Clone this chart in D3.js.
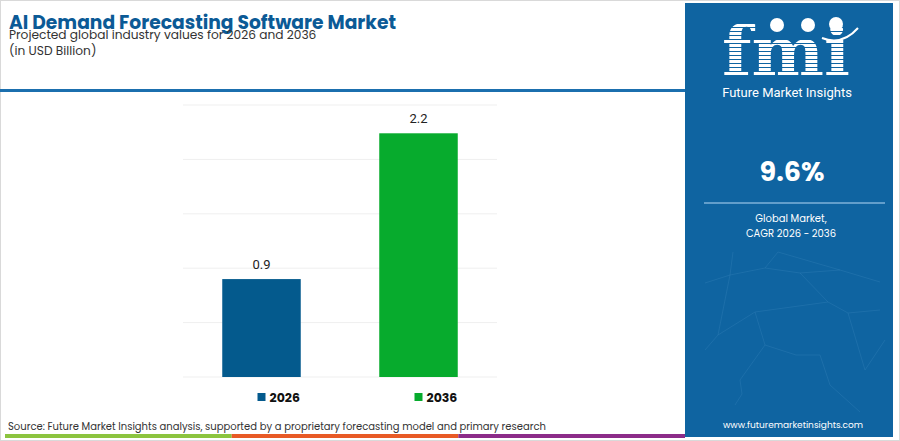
<!DOCTYPE html>
<html>
<head>
<meta charset="utf-8">
<script src="https://cdn.jsdelivr.net/npm/d3@7"></script>
<style>
  body { margin: 0; background: #fff; }
  svg { display: block; font-family: Poppins, "Open Sans", Lato, sans-serif; }
</style>
</head>
<body>
<script>
var years = ["2026", "2036"];
var values = [0.9, 2.24];
var labels = ["0.9", "2.2"];
var colors = ["#045a8d", "#07ab2d"];
var gridTicks = [0, 0.5, 1, 1.5, 2, 2.5];
var cagr = "9.6%";
var stripeColors = ["#8cc43f", "#e85a26", "#8c2c89"];

var width = 900, height = 441;

var svg = d3.select("body").append("svg")
  .attr("width", width)
  .attr("height", height);

// outer frame
svg.append("rect")
  .attr("x", 0.5).attr("y", 0.5)
  .attr("width", width - 1).attr("height", height - 1)
  .attr("fill", "#fff").attr("stroke", "#d9d9d9");

// header
svg.append("text")
  .attr("x", 9).attr("y", 29)
  .attr("font-size", 18.7).attr("font-weight", 700)
  .attr("fill", "#0b5a96")
  .text("AI Demand Forecasting Software Market");
svg.append("text")
  .attr("x", 9).attr("y", 39)
  .attr("font-size", 12.2).attr("fill", "#333")
  .text("Projected global industry values for 2026 and 2036");
svg.append("text")
  .attr("x", 9).attr("y", 55)
  .attr("font-size", 12.2).attr("fill", "#333")
  .text("(in USD Billion)");

svg.append("rect")
  .attr("x", 0).attr("y", 89)
  .attr("width", 686).attr("height", 3)
  .attr("fill", "#1b6fae");

// chart
var x = d3.scaleBand().domain(years).range([183, 497]).paddingInner(0.5).paddingOuter(0.25);
var y = d3.scaleLinear().domain([0, 2.5]).range([377, 105]);

svg.append("g").selectAll("line")
  .data(gridTicks)
  .join("line")
  .attr("x1", 183).attr("x2", 497)
  .attr("y1", function(d) { return y(d); })
  .attr("y2", function(d) { return y(d); })
  .attr("stroke", "#efefef").attr("stroke-width", 1);

svg.append("g").selectAll("rect")
  .data(years)
  .join("rect")
  .attr("x", function(d) { return x(d); })
  .attr("width", x.bandwidth())
  .attr("y", function(d, i) { return y(values[i]); })
  .attr("height", function(d, i) { return y(0) - y(values[i]); })
  .attr("fill", function(d, i) { return colors[i]; });

svg.append("g").selectAll("text")
  .data(years)
  .join("text")
  .attr("x", function(d) { return x(d) + x.bandwidth() / 2; })
  .attr("y", function(d, i) { return y(values[i]) - 10; })
  .attr("text-anchor", "middle")
  .attr("font-size", 13).attr("fill", "#222")
  .attr("font-family", "Roboto, sans-serif")
  .text(function(d, i) { return labels[i]; });

// legend
var leg = svg.append("g").selectAll("g")
  .data(years)
  .join("g")
  .attr("transform", function(d) { return "translate(" + (x(d) + x.bandwidth() / 2 - 4) + ",393)"; });
leg.append("rect")
  .attr("width", 8).attr("height", 8)
  .attr("fill", function(d, i) { return colors[i]; });
leg.append("text")
  .attr("x", 12).attr("y", 8.5)
  .attr("font-size", 12.5).attr("font-weight", 700).attr("fill", "#111")
  .text(function(d) { return d; });

// source + bottom stripe
svg.append("text")
  .attr("x", 8).attr("y", 430)
  .attr("font-size", 10).attr("fill", "#333")
  .text("Source: Future Market Insights analysis, supported by a proprietary forecasting model and primary research");

var sx = d3.scaleBand().domain(stripeColors).range([5, 685]);
svg.append("g").selectAll("rect")
  .data(stripeColors)
  .join("rect")
  .attr("x", function(d) { return sx(d); })
  .attr("y", 434)
  .attr("width", sx.bandwidth())
  .attr("height", 4)
  .attr("fill", function(d) { return d; });

// right panel
var px = 685, pw = 208;
svg.append("rect")
  .attr("x", px).attr("y", 3)
  .attr("width", pw).attr("height", 434)
  .attr("fill", "#0f64a1");

// faint network lines
var netPts = [[733,252],[730,275],[705,283],[765,268],[778,252],[800,273],[840,270],[880,282],[718,335],[755,312],[765,345],[740,380],[705,350],[828,302],[848,313],[880,310],[820,355],[796,355],[830,385],[860,412],[865,370],[885,340],[742,394],[735,405]];
var netLinks = [[0,1],[1,2],[1,3],[3,4],[3,5],[5,6],[6,7],[1,8],[8,9],[9,10],[10,11],[8,12],[5,13],[13,14],[14,15],[10,17],[17,16],[16,18],[18,19],[14,20],[20,21],[11,22],[22,23],[9,13],[4,6]];
svg.append("g").selectAll("line")
  .data(netLinks)
  .join("line")
  .attr("x1", function(d) { return netPts[d[0]][0]; })
  .attr("y1", function(d) { return netPts[d[0]][1]; })
  .attr("x2", function(d) { return netPts[d[1]][0]; })
  .attr("y2", function(d) { return netPts[d[1]][1]; })
  .attr("stroke", "#3b86bd").attr("stroke-width", 0.7).attr("opacity", 0.45);

// logo
var defs = svg.append("defs");
var pat = defs.append("pattern")
  .attr("id", "stripes").attr("patternUnits", "userSpaceOnUse")
  .attr("width", 10).attr("height", 4);
pat.append("rect").attr("width", 10).attr("height", 4).attr("fill", "#fff");
pat.append("rect").attr("y", 3).attr("width", 10).attr("height", 1).attr("fill", "#0f64a1");

svg.append("text")
  .attr("x", 722).attr("y", 76)
  .attr("font-family", "'DejaVu Serif', serif")
  .attr("font-size", 70).attr("font-weight", 700)
  .attr("textLength", 128).attr("lengthAdjust", "spacingAndGlyphs")
  .attr("fill", "url(#stripes)")
  .text("fmi");
svg.append("g").selectAll("circle")
  .data([[777, 25], [808, 25], [836, 24]])
  .join("circle")
  .attr("cx", function(d) { return d[0]; })
  .attr("cy", function(d) { return d[1]; })
  .attr("r", 7)
  .attr("fill", "#fff");
svg.append("path")
  .attr("d", "M822,38 Q842,46 858,28")
  .attr("fill", "none").attr("stroke", "#fff").attr("stroke-width", 2);

svg.append("text")
  .attr("x", 787).attr("y", 97)
  .attr("text-anchor", "middle")
  .attr("font-size", 13).attr("fill", "#fff")
  .attr("font-family", "Roboto, sans-serif")
  .text("Future Market Insights");

svg.append("text")
  .attr("x", 792).attr("y", 181)
  .attr("text-anchor", "middle")
  .attr("font-size", 27).attr("font-weight", 700).attr("fill", "#fff")
  .text(cagr);

svg.append("line")
  .attr("x1", 704).attr("x2", 885)
  .attr("y1", 203).attr("y2", 203)
  .attr("stroke", "#7fb2da").attr("stroke-width", 1.5);

svg.append("text")
  .attr("x", 791).attr("y", 222)
  .attr("text-anchor", "middle")
  .attr("font-size", 10).attr("fill", "#fff")
  .text("Global Market,");
svg.append("text")
  .attr("x", 791).attr("y", 237)
  .attr("text-anchor", "middle")
  .attr("font-size", 10).attr("fill", "#fff")
  .text("CAGR 2026 - 2036");

svg.append("text")
  .attr("x", 793).attr("y", 428)
  .attr("text-anchor", "middle")
  .attr("font-size", 9).attr("fill", "#fff")
  .text("www.futuremarketinsights.com");
</script>
</body>
</html>
